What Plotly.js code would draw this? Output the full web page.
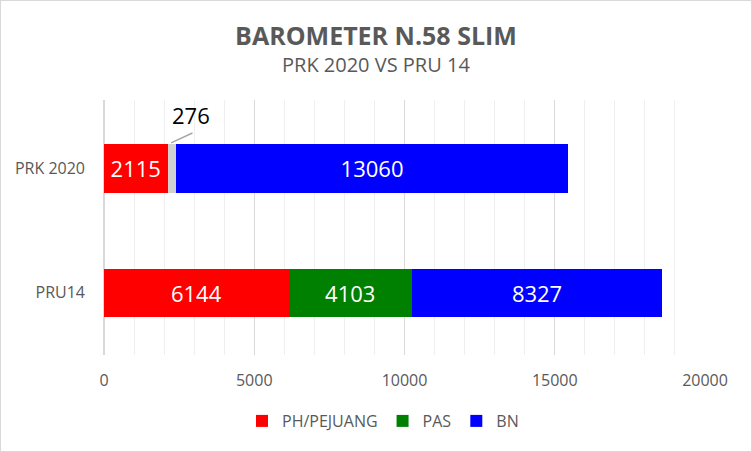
<!DOCTYPE html>
<html>
<head>
<meta charset="utf-8">
<script src="https://cdn.plot.ly/plotly-3.0.1.min.js"></script>
<style>
  html, body { margin: 0; padding: 0; background: #fff; }
  #wrap { width: 750px; height: 450px; border: 1px solid #d9d9d9; }
  #chart { width: 750px; height: 450px; }
</style>
</head>
<body>
<div id="wrap"><div id="chart"></div></div>
<script>
// ---- data ----
const categories = ['PRU14', 'PRK 2020'];
const phPejuang = [6144, 2115];
const other = [null, 276];
const pas = [4103, null];
const bn = [8327, 13060];
const seriesNames = ['PH/PEJUANG', 'PAS', 'BN'];
const xTicks = [0, 5000, 10000, 15000, 20000];

const FONT = 'Open Sans, Noto Sans, sans-serif';
const GRAY = '#595959';
const labels = arr => arr.map(v => (v == null ? '' : String(v)));

function barTrace(name, vals, color, showLabels, showlegend) {
  return {
    type: 'bar', orientation: 'h', name: name,
    y: categories, x: vals,
    marker: { color: color, line: { width: 0 } },
    text: showLabels ? labels(vals) : labels(vals.map(() => null)),
    textposition: 'inside', insidetextanchor: 'middle',
    textfont: { family: FONT, size: 22, color: '#ffffff' },
    constraintext: 'none',
    showlegend: showlegend,
    hoverinfo: 'x+name'
  };
}

const traces = [
  barTrace(seriesNames[0], phPejuang, '#ff0000', true, true),
  barTrace('Lain-lain', other, '#d0d0d0', false, false),
  barTrace(seriesNames[1], pas, '#008000', true, true),
  barTrace(seriesNames[2], bn, '#0000ff', true, true)
];

// leader line + outside label for the small grey segment (PRK 2020)
const iPRK = categories.indexOf('PRK 2020');
const greyMid = phPejuang[iPRK] + other[iPRK] / 2;

const layout = {
  width: 750, height: 450,
  margin: { l: 103, r: 46, t: 99, b: 96 },
  paper_bgcolor: '#ffffff', plot_bgcolor: '#ffffff',
  font: { family: FONT, color: GRAY },
  barmode: 'stack',
  bargap: 0.61,
  title: {
    text: '<b>BAROMETER N.58 SLIM</b>',
    font: { family: FONT, size: 25, color: GRAY },
    x: 0.5, xanchor: 'center', xref: 'container',
    y: 1 - 35 / 450, yanchor: 'middle', yref: 'container'
  },
  annotations: [
    {
      text: 'PRK 2020 VS PRU 14', xref: 'paper', yref: 'paper',
      x: (375 - 103) / 601, y: 1 + (99 - 63) / 255, xanchor: 'center', yanchor: 'middle',
      showarrow: false, font: { family: FONT, size: 20, color: GRAY }
    },
    {
      text: String(other[iPRK]), xref: 'x', yref: 'y',
      x: greyMid + 650, y: iPRK + 0.43, xanchor: 'center', yanchor: 'middle',
      showarrow: false, font: { family: FONT, size: 22, color: '#000000' }
    }
  ],
  shapes: [
    {
      type: 'line', xref: 'x', yref: 'y',
      x0: greyMid - 20, y0: iPRK + 0.205, x1: greyMid + 690, y1: iPRK + 0.285,
      line: { color: '#a6a6a6', width: 1.5 }
    }
  ],
  xaxis: {
    range: [0, 20000],
    tickvals: xTicks, ticktext: xTicks.map(String),
    showgrid: true, gridcolor: '#d9d9d9', gridwidth: 1,
    minor: { dtick: 1000, showgrid: true, gridcolor: '#efefef', gridwidth: 1 },
    zeroline: true, zerolinecolor: '#d9d9d9', zerolinewidth: 1.5,
    showline: false, ticks: '',
    tickfont: { family: FONT, size: 16, color: GRAY },
    ticklabelstandoff: 14,
    fixedrange: true
  },
  yaxis: {
    type: 'category', categoryorder: 'array', categoryarray: categories,
    range: [-0.5, 1.55],
    showgrid: false, zeroline: false, showline: false, ticks: '',
    tickfont: { family: FONT, size: 16, color: GRAY },
    ticklabelstandoff: 18,
    fixedrange: true
  },
  legend: {
    orientation: 'h', x: (382 - 103) / 601, xanchor: 'center',
    y: -(420 - 354) / 255, yanchor: 'middle',
    font: { family: FONT, size: 16, color: GRAY },
    traceorder: 'normal', itemwidth: 30
  },
  showlegend: true
};

Plotly.newPlot('chart', traces, layout, { displayModeBar: false, staticPlot: true });
</script>
</body>
</html>
